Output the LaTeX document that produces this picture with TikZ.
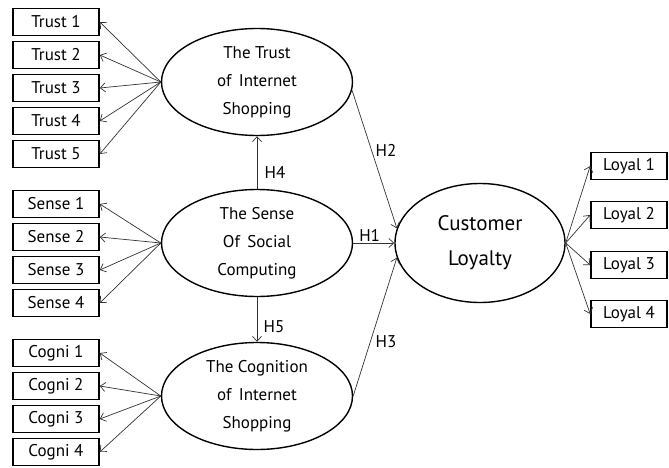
\documentclass[tikz,border=0pt]{standalone}
\usepackage{fontspec}
\setmainfont{PT Sans}
\usetikzlibrary{shapes.geometric, arrows.meta}

\begin{document}
\begin{tikzpicture}[
            x=1pt, y=-1pt,
            font=\fontsize{17}{28}\selectfont,
            item/.style={draw, line width=1.6pt, minimum width=86pt, minimum height=27pt, inner sep=0pt},
            factor/.style={ellipse, draw, line width=1.4pt, minimum width=191pt, minimum height=107pt, inner sep=0pt, align=center},
            path/.style={-{Straight Barb[length=5pt, width=9pt]}, line width=0.7pt, draw=black!80},
            hyp/.style={inner sep=1pt}
        ]
        \useasboundingbox (0,0) rectangle (669,468);

        % latent constructs
        \node[factor] (trust) at (257,82) {The Trust\\of\, Internet\\Shopping};
        \node[factor] (sense) at (257,243) {The Sense\\Of\, Social\\Computing};
        \node[factor] (cogni) at (257,396) {The Cognition\\of\, Internet\\Shopping};
        \node[factor, minimum width=170pt, minimum height=119pt, font=\fontsize{21}{35}\selectfont] (loyal) at (480,243) {Customer\\Loyalty};

        % observed items
        \foreach \i/\y in {1/22, 2/55, 3/88, 4/121, 5/154} {
            \node[item] (trust\i) at (56,\y) {Trust \i};
            \draw[path] (trust.west) -- (trust\i.east);
        }
        \foreach \i/\y in {1/204, 2/237, 3/270, 4/303} {
            \node[item] (sense\i) at (56,\y) {Sense \i};
            \draw[path] (sense.west) -- (sense\i.east);
        }
        \foreach \i/\y in {1/353, 2/386, 3/419, 4/452} {
            \node[item] (cogni\i) at (56,\y) {Cogni \i};
            \draw[path] (cogni.west) -- (cogni\i.east);
        }
        \foreach \i/\y in {1/166, 2/215, 3/265, 4/314} {
            \node[item, minimum width=76pt] (loyal\i) at (629,\y) {Loyal \i};
            \draw[path] (loyal.east) -- (loyal\i.west);
        }

        % hypotheses
        \draw[path] (sense.east) -- (loyal.west) node[hyp, pos=0.4, above] (h1) {H1};
        \draw[path] (trust.-5) -- (loyal.170);
        \draw[path] (cogni.east) -- (loyal.190);
        \draw[path] (sense.north) -- (trust.south);
        \draw[path] (sense.south) -- (cogni.north);
        \node[hyp] (h2) at (386,150) {H2};
        \node[hyp] (h3) at (386,342) {H3};
        \node[hyp] (h4) at (275,172) {H4};
        \node[hyp] (h5) at (274,327) {H5};
    \end{tikzpicture}
\end{document}
